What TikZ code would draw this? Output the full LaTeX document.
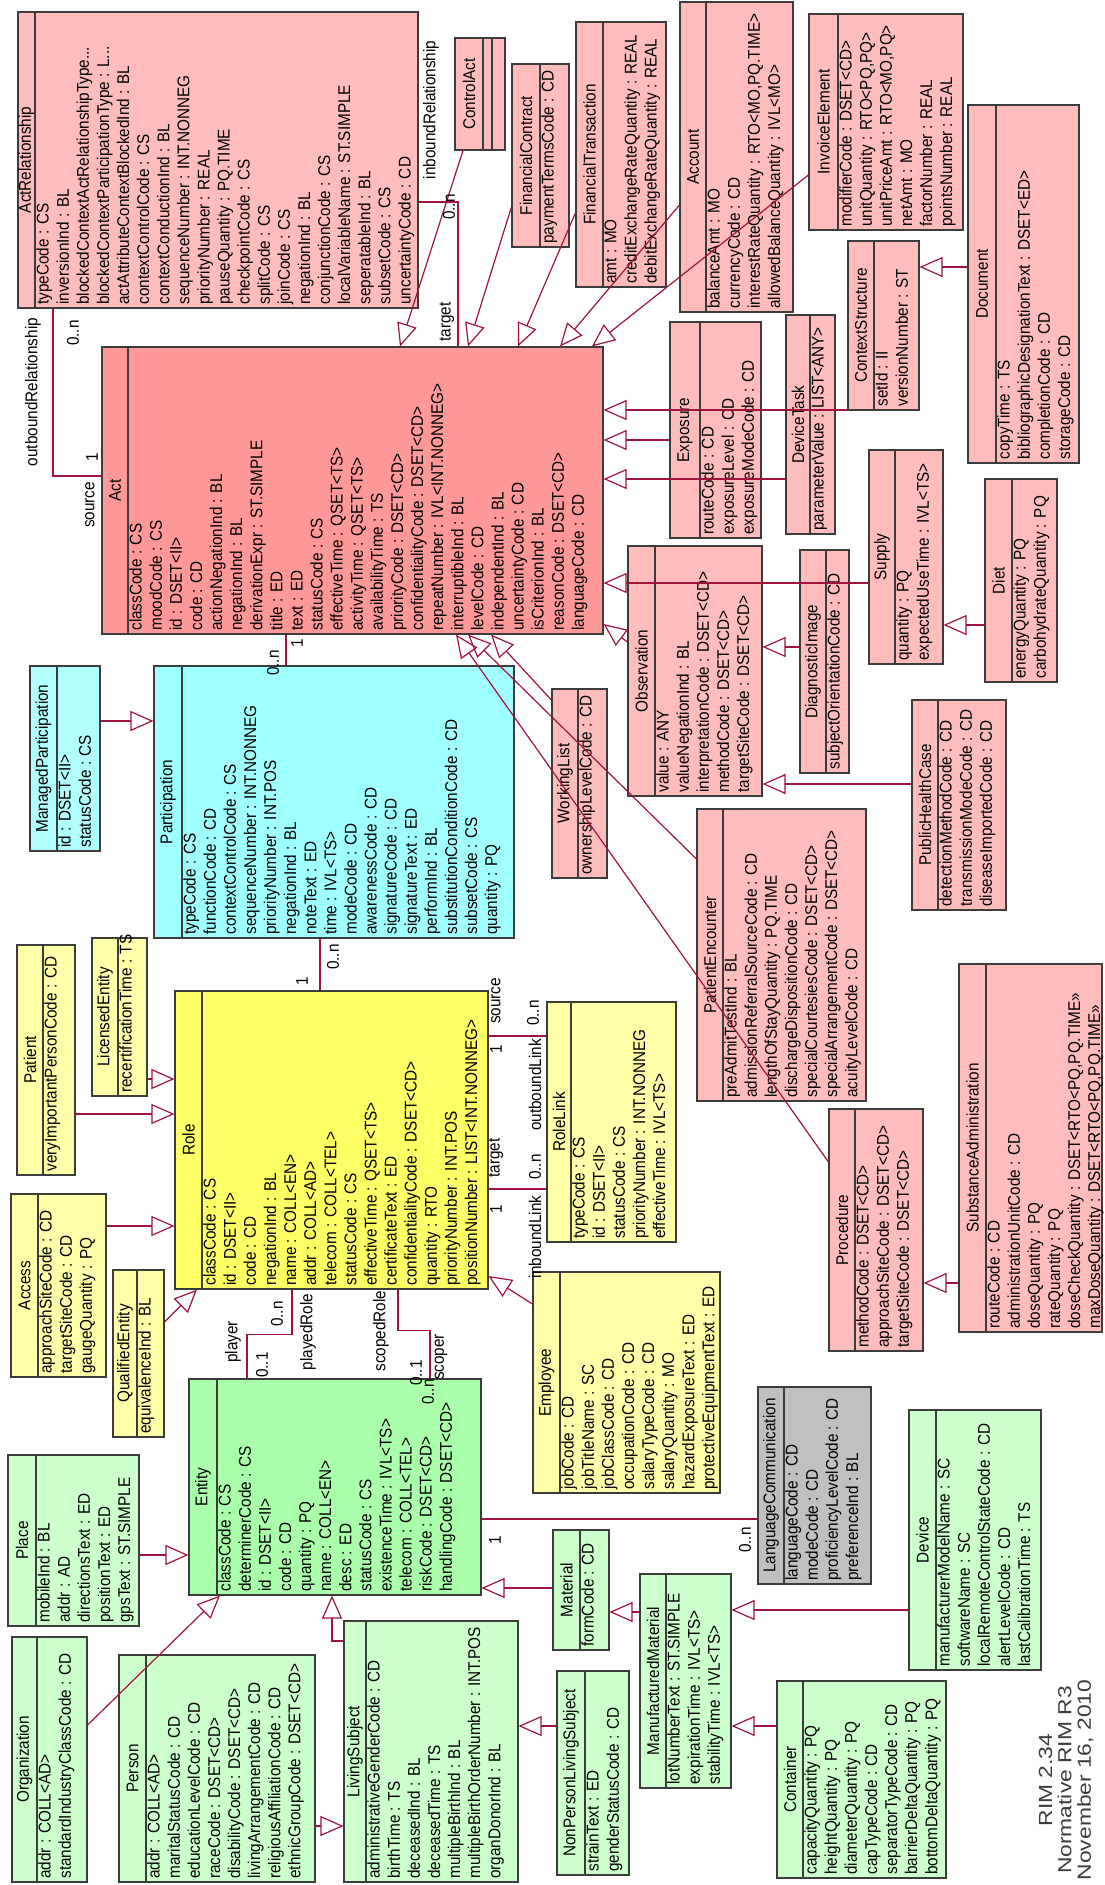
\documentclass[tikz,border=0pt]{standalone}
\usepackage{fontspec}
\setmainfont{Liberation Sans}[FakeStretch=0.9]
\newfontfamily\widesans{Liberation Sans}[FakeStretch=1.2]
\usetikzlibrary{fit,arrows.meta}
\definecolor{pinkL}{RGB}{255,188,188}
\definecolor{pinkD}{RGB}{255,152,152}
\definecolor{cyanA}{RGB}{160,255,255}
\definecolor{cyanL}{RGB}{178,255,255}
\definecolor{yelA}{RGB}{255,255,102}
\definecolor{yelL}{RGB}{255,255,170}
\definecolor{grnA}{RGB}{170,255,170}
\definecolor{grnL}{RGB}{204,255,204}
\definecolor{grayA}{RGB}{192,192,192}
\definecolor{boxc}{RGB}{60,60,60}
\definecolor{linec}{RGB}{160,20,60}
\definecolor{footc}{RGB}{60,60,60}
\newcommand\clsfont{\fontsize{8.5}{10.05}\selectfont}
\newcommand\footfont{\widesans\fontsize{9.5}{9.7}\selectfont}
\newcommand\umlclass[9]{%
  \node[box, fill=#2, fit={(#3,-#4)(#5,-#6)}] (#1) {};
  \draw[boxline] (#1.north -| #7,0) -- (#1.south -| #7,0);
  \node[ttl] (#1-t) at ({(#3+#7)/2},{-(#4+#6)/2}) {#8};
  \node[attr] (#1-a) at ({#7+1},{-#6+3}) {\rule{0pt}{6pt}#9};
}
\begin{document}
\begin{tikzpicture}[x=0.5pt,y=0.5pt,
  box/.style={draw=boxc, line width=0.55pt, inner sep=0pt},
  boxline/.style={draw=boxc, line width=0.55pt},
  ttl/.style={rotate=90, inner sep=0pt, font=\clsfont},
  attr/.style={rotate=90, inner sep=0pt, align=left, font=\clsfont, anchor=north west},
  lbl/.style={rotate=90, inner sep=0pt, font=\clsfont},
  assoc/.style={draw=linec, line width=0.6pt},
  gen/.style={draw=linec, line width=0.6pt, -{Triangle[open, length=11.5pt, width=10pt]}}]
\fill[white] (0,0) rectangle (1104,-1885);
\useasboundingbox (0,0) rectangle (1104,-1885);

% ---------------- Act classes ----------------
\umlclass{actrel}{pinkL}{18}{12}{418}{308}{35}{ActRelationship}{typeCode : CS\\inversionInd : BL\\blockedContextActRelationshipType...\\blockedContextParticipationType : L...\\actAttributeContextBlockedInd : BL\\contextControlCode : CS\\contextConductionInd : BL\\sequenceNumber : INT.NONNEG\\priorityNumber : REAL\\pauseQuantity : PQ.TIME\\checkpointCode : CS\\splitCode : CS\\joinCode : CS\\negationInd : BL\\conjunctionCode : CS\\localVariableName : ST.SIMPLE\\seperatableInd : BL\\subsetCode : CS\\uncertaintyCode : CD}
\umlclass{controlact}{pinkL}{455}{38}{505}{150}{483}{ControlAct}{}
\draw[boxline] (controlact.north -| 492,0) -- (controlact.south -| 492,0);
\umlclass{fincontract}{pinkL}{512}{64}{569}{247}{540}{FinancialContract}{paymentTermsCode : CD}
\umlclass{fintrans}{pinkL}{576}{22}{666}{287}{603}{FinancialTransaction}{amt : MO\\creditExchangeRateQuantity : REAL\\debitExchangeRateQuantity : REAL}
\umlclass{account}{pinkL}{680}{2}{793}{312}{706}{Account}{balanceAmt : MO\\currencyCode : CD\\interestRateQuantity : RTO<MO,PQ.TIME>\\allowedBalanceQuantity : IVL<MO>}
\umlclass{invoice}{pinkL}{809}{14}{963}{230}{838}{InvoiceElement}{modifierCode : DSET<CD>\\unitQuantity : RTO<PQ,PQ>\\unitPriceAmt : RTO<MO,PQ>\\netAmt : MO\\factorNumber : REAL\\pointsNumber : REAL}
\umlclass{document}{pinkL}{968}{105}{1079}{463}{996}{Document}{copyTime : TS\\bibliographicDesignationText : DSET<ED>\\completionCode : CD\\storageCode : CD}
\umlclass{ctxstruct}{pinkL}{848}{241}{919}{410}{874}{ContextStructure}{setId : II\\versionNumber : ST}
\umlclass{devicetask}{pinkL}{786}{315}{835}{534}{810}{DeviceTask}{parameterValue : LIST<ANY>}
\umlclass{exposure}{pinkL}{670}{322}{761}{538}{700}{Exposure}{routeCode : CD\\exposureLevel : CD\\exposureModeCode : CD}
\umlclass{act}{pinkD}{102}{347}{603}{634}{128}{Act}{classCode : CS\\moodCode : CS\\id : DSET<II>\\code : CD\\actionNegationInd : BL\\negationInd : BL\\derivationExpr : ST.SIMPLE\\title : ED\\text : ED\\statusCode : CS\\effectiveTime : QSET<TS>\\activityTime : QSET<TS>\\availabilityTime : TS\\priorityCode : DSET<CD>\\confidentialityCode : DSET<CD>\\repeatNumber : IVL<INT.NONNEG>\\interruptibleInd : BL\\levelCode : CD\\independentInd : BL\\uncertaintyCode : CD\\isCriterionInd : BL\\reasonCode : DSET<CD>\\languageCode : CD}
\umlclass{supply}{pinkL}{869}{450}{943}{664}{895}{Supply}{quantity : PQ\\expectedUseTime : IVL<TS>}
\umlclass{diet}{pinkL}{985}{479}{1057}{682}{1012}{Diet}{energyQuantity : PQ\\carbohydrateQuantity : PQ}
\umlclass{observation}{pinkL}{628}{546}{762}{796}{655}{Observation}{value : ANY\\valueNegationInd : BL\\interpretationCode : DSET<CD>\\methodCode : DSET<CD>\\targetSiteCode : DSET<CD>}
\umlclass{diagimage}{pinkL}{800}{550}{849}{773}{826}{DiagnosticImage}{subjectOrientationCode : CD}
\umlclass{phc}{pinkL}{912}{700}{1006}{910}{938}{PublicHealthCase}{detectionMethodCode : CD\\transmissionModeCode : CD\\diseaseImportedCode : CD}
\umlclass{workinglist}{pinkL}{552}{689}{607}{878}{578}{WorkingList}{ownershipLevelCode : CD}
\umlclass{patenc}{pinkL}{697}{809}{866}{1101}{723}{PatientEncounter}{preAdmitTestInd : BL\\admissionReferralSourceCode : CD\\lengthOfStayQuantity : PQ.TIME\\dischargeDispositionCode : CD\\specialCourtesiesCode : DSET<CD>\\specialArrangementCode : DSET<CD>\\acuityLevelCode : CD}
\umlclass{procedure}{pinkL}{829}{1109}{923}{1351}{855}{Procedure}{methodCode : DSET<CD>\\approachSiteCode : DSET<CD>\\targetSiteCode : DSET<CD>}
\umlclass{substadmin}{pinkL}{959}{964}{1102}{1332}{986}{SubstanceAdministration}{routeCode : CD\\administrationUnitCode : CD\\doseQuantity : PQ\\rateQuantity : PQ\\doseCheckQuantity : DSET<RTO<PQ,PQ.TIME>>\\maxDoseQuantity : DSET<RTO<PQ,PQ.TIME>>}

% ---------------- Participation ----------------
\umlclass{managedpart}{cyanL}{30}{666}{100}{851}{57}{ManagedParticipation}{id : DSET<II>\\statusCode : CS}
\umlclass{participation}{cyanA}{154}{666}{514}{938}{182}{Participation}{typeCode : CS\\functionCode : CD\\contextControlCode : CS\\sequenceNumber : INT.NONNEG\\priorityNumber : INT.POS\\negationInd : BL\\noteText : ED\\time : IVL<TS>\\modeCode : CD\\awarenessCode : CD\\signatureCode : CD\\signatureText : ED\\performInd : BL\\substitutionConditionCode : CD\\subsetCode : CS\\quantity : PQ}

% ---------------- Role classes ----------------
\umlclass{patient}{yelL}{17}{945}{75}{1175}{43}{Patient}{veryImportantPersonCode : CD}
\umlclass{licensed}{yelL}{92}{938}{147}{1096}{118}{LicensedEntity}{recertificationTime : TS}
\umlclass{role}{yelA}{175}{991}{488}{1289}{202}{Role}{classCode : CS\\id : DSET<II>\\code : CD\\negationInd : BL\\name : COLL<EN>\\addr : COLL<AD>\\telecom : COLL<TEL>\\statusCode : CS\\effectiveTime : QSET<TS>\\certificateText : ED\\confidentialityCode : DSET<CD>\\quantity : RTO\\priorityNumber : INT.POS\\positionNumber : LIST<INT.NONNEG>}
\umlclass{rolelink}{yelL}{547}{1002}{676}{1242}{571}{RoleLink}{typeCode : CS\\id : DSET<II>\\statusCode : CS\\priorityNumber : INT.NONNEG\\effectiveTime : IVL<TS>}
\umlclass{access}{yelL}{11}{1194}{106}{1377}{38}{Access}{approachSiteCode : CD\\targetSiteCode : CD\\gaugeQuantity : PQ}
\umlclass{qualified}{yelL}{113}{1270}{164}{1437}{137}{QualifiedEntity}{equivalenceInd : BL}
\umlclass{employee}{yelL}{533}{1272}{720}{1493}{560}{Employee}{jobCode : CD\\jobTitleName : SC\\jobClassCode : CD\\occupationCode : CD\\salaryTypeCode : CD\\salaryQuantity : MO\\hazardExposureText : ED\\protectiveEquipmentText : ED}
\umlclass{langcomm}{grayA}{758}{1387}{871}{1584}{784}{LanguageCommunication}{languageCode : CD\\modeCode : CD\\proficiencyLevelCode : CD\\preferenceInd : BL}

% ---------------- Entity classes ----------------
\umlclass{entity}{grnA}{189}{1379}{481}{1595}{217}{Entity}{classCode : CS\\determinerCode : CS\\id : DSET<II>\\code : CD\\quantity : PQ\\name : COLL<EN>\\desc : ED\\statusCode : CS\\existenceTime : IVL<TS>\\telecom : COLL<TEL>\\riskCode : DSET<CD>\\handlingCode : DSET<CD>}
\umlclass{place}{grnL}{8}{1455}{139}{1626}{36}{Place}{mobileInd : BL\\addr : AD\\directionsText : ED\\positionText : ED\\gpsText : ST.SIMPLE}
\umlclass{organization}{grnL}{12}{1637}{87}{1882}{37}{Organization}{addr : COLL<AD>\\standardIndustryClassCode : CD}
\umlclass{person}{grnL}{119}{1655}{315}{1882}{146}{Person}{addr : COLL<AD>\\maritalStatusCode : CD\\educationLevelCode : CD\\raceCode : DSET<CD>\\disabilityCode : DSET<CD>\\livingArrangementCode : CD\\religiousAffiliationCode : CD\\ethnicGroupCode : DSET<CD>}
\umlclass{livingsubj}{grnL}{344}{1621}{518}{1882}{366}{LivingSubject}{administrativeGenderCode : CD\\birthTime : TS\\deceasedInd : BL\\deceasedTime : TS\\multipleBirthInd : BL\\multipleBirthOrderNumber : INT.POS\\organDonorInd : BL}
\umlclass{material}{grnL}{553}{1530}{609}{1650}{580}{Material}{formCode : CD}
\umlclass{npls}{grnL}{557}{1671}{629}{1875}{585}{NonPersonLivingSubject}{strainText : ED\\genderStatusCode : CD}
\umlclass{manumat}{grnL}{640}{1574}{731}{1788}{666}{ManufacturedMaterial}{lotNumberText : ST.SIMPLE\\expirationTime : IVL<TS>\\stabilityTime : IVL<TS>}
\umlclass{device}{grnL}{909}{1410}{1041}{1670}{936}{Device}{manufacturerModelName : SC\\softwareName : SC\\localRemoteControlStateCode : CD\\alertLevelCode : CD\\lastCalibrationTime : TS}
\umlclass{container}{grnL}{777}{1681}{946}{1878}{803}{Container}{capacityQuantity : PQ\\heightQuantity : PQ\\diameterQuantity : PQ\\capTypeCode : CD\\separatorTypeCode : CD\\barrierDeltaQuantity : PQ\\bottomDeltaQuantity : PQ}

% ---------------- connectors ----------------
\draw[assoc] (actrel.south -| 53,0) |- (act.west |- 0,-476);
\draw[assoc] (actrel.east |- 0,-202) -| (act.north -| 458,0);
\draw[gen] (controlact.south -| 463,0) -- (act.north -| 400,0);
\draw[gen] (fincontract.west |- 0,-207) -- (act.north -| 468,0);
\draw[gen] (fintrans.west |- 0,-213) -- (act.north -| 518,0);
\draw[gen] (account.west |- 0,-205) -- (act.north -| 560,0);
\draw[gen] (invoice.west |- 0,-175) -- (act.north -| 592,0);
\draw[gen] (ctxstruct.west |- 0,-410) -- (act.east |- 0,-410);
\draw[gen] (exposure.west |- 0,-440) -- (act.east |- 0,-440);
\draw[gen] (devicetask.west |- 0,-479) -- (act.east |- 0,-479);
\draw[gen] (supply.west |- 0,-583) -- (act.east |- 0,-583);
\draw[gen] (observation.west |- 0,-642) -- (act.east |- 0,-624);
\draw[gen] (document.west |- 0,-267) -- (ctxstruct.east |- 0,-267);
\draw[gen] (diet.west |- 0,-625) -- (supply.east |- 0,-625);
\draw[gen] (diagimage.west |- 0,-647) -- (observation.east |- 0,-647);
\draw[gen] (phc.west |- 0,-784) -- (observation.east |- 0,-784);
\draw[gen] (workinglist.west |- 0,-700) -- (act.south -| 491,0);
\draw[gen] (patenc.west |- 0,-859) -- (act.south -| 468,0);
\draw[gen] (procedure.west |- 0,-1162) -- (act.south -| 456,0);
\draw[gen] (substadmin.west |- 0,-1283) -- (procedure.east |- 0,-1283);
\draw[assoc] (act.south -| 286,0) -- (participation.north -| 286,0);
\draw[gen] (managedpart.east |- 0,-721) -- (participation.west |- 0,-721);
\draw[assoc] (participation.south -| 320,0) -- (role.north -| 320,0);
\draw[gen] (patient.east |- 0,-1114) -- (role.west |- 0,-1114);
\draw[gen] (licensed.east |- 0,-1079) -- (role.west |- 0,-1079);
\draw[gen] (access.east |- 0,-1226) -- (role.west |- 0,-1226);
\draw[gen] (qualified.east |- 0,-1322) -- (role.south -| 197,0);
\draw[gen] (employee.west |- 0,-1304) -- (role.east |- 0,-1276);
\draw[assoc] (role.east |- 0,-1036) -- (rolelink.west |- 0,-1036);
\draw[assoc] (role.east |- 0,-1189) -- (rolelink.west |- 0,-1189);
\draw[assoc] (role.south -| 292,0) -- ++(0,-45) -| (entity.north -| 247,0);
\draw[assoc] (role.south -| 398,0) -- ++(0,-41) -| (entity.north -| 430,0);
\draw[assoc] (entity.east |- 0,-1519) -- (langcomm.west |- 0,-1519);
\draw[gen] (place.east |- 0,-1555) -- (entity.west |- 0,-1555);
\draw[gen] (organization.east |- 0,-1725) -- (entity.south -| 220,0);
\draw[gen] (livingsubj.west |- 0,-1641) -| (entity.south -| 332,0);
\draw[gen] (person.east |- 0,-1826) -- (livingsubj.west |- 0,-1826);
\draw[gen] (material.west |- 0,-1588) -- (entity.east |- 0,-1588);
\draw[gen] (npls.west |- 0,-1726) -- (livingsubj.east |- 0,-1726);
\draw[gen] (manumat.west |- 0,-1612) -- (material.east |- 0,-1612);
\draw[gen] (device.west |- 0,-1610) -- (manumat.east |- 0,-1610);
\draw[gen] (container.west |- 0,-1726) -- (manumat.east |- 0,-1726);

% ---------------- role labels ----------------
\node[lbl] (l-outrel) at (33,-392) {outboundRelationship};
\node[lbl] (l-outn) at (73,-333) {0..n};
\node[lbl] (l-out1) at (92,-457) {1};
\node[lbl] (l-src) at (90,-505) {source};
\node[lbl] (l-inrel) at (431,-110) {inboundRelationship};
\node[lbl] (l-inn) at (449,-207) {0..n};
\node[lbl] (l-tgt) at (447,-322) {target};
\node[lbl] (l-pn) at (273,-663) {0..n};
\node[lbl] (l-p1) at (297,-643) {1};
\node[lbl] (l-rn) at (333,-957) {0..n};
\node[lbl] (l-r1) at (302,-981) {1};
\node[lbl] (l-rlsrc) at (496,-1001) {source};
\node[lbl] (l-rl1a) at (496,-1049) {1};
\node[lbl] (l-rlna) at (533,-1013) {0..n};
\node[lbl] (l-outlink) at (535,-1085) {outboundLink};
\node[lbl] (l-rltgt) at (496,-1158) {target};
\node[lbl] (l-rlnb) at (535,-1167) {0..n};
\node[lbl] (l-rl1b) at (496,-1209) {1};
\node[lbl] (l-inlink) at (535,-1237) {inboundLink};
\node[lbl] (l-pln) at (277,-1314) {0..n};
\node[lbl] (l-player) at (233,-1342) {player};
\node[lbl] (l-pl01) at (262,-1365) {0..1};
\node[lbl] (l-played) at (308,-1332) {playedRole};
\node[lbl] (l-scoped) at (381,-1331) {scopedRole};
\node[lbl] (l-sc01) at (416,-1373) {0..1};
\node[lbl] (l-scoper) at (441,-1357) {scoper};
\node[lbl] (l-scn) at (428,-1392) {0..n};
\node[lbl] (l-lc1) at (495,-1540) {1};
\node[lbl] (l-lcn) at (745,-1540) {0..n};

% ---------------- footer ----------------
\node[rotate=90, align=center, inner sep=0pt, font=\footfont, text=footc] (footer) at (1066,-1780) {RIM 2.34\\Normative RIM R3\\November 16, 2010};
\end{tikzpicture}
\end{document}
